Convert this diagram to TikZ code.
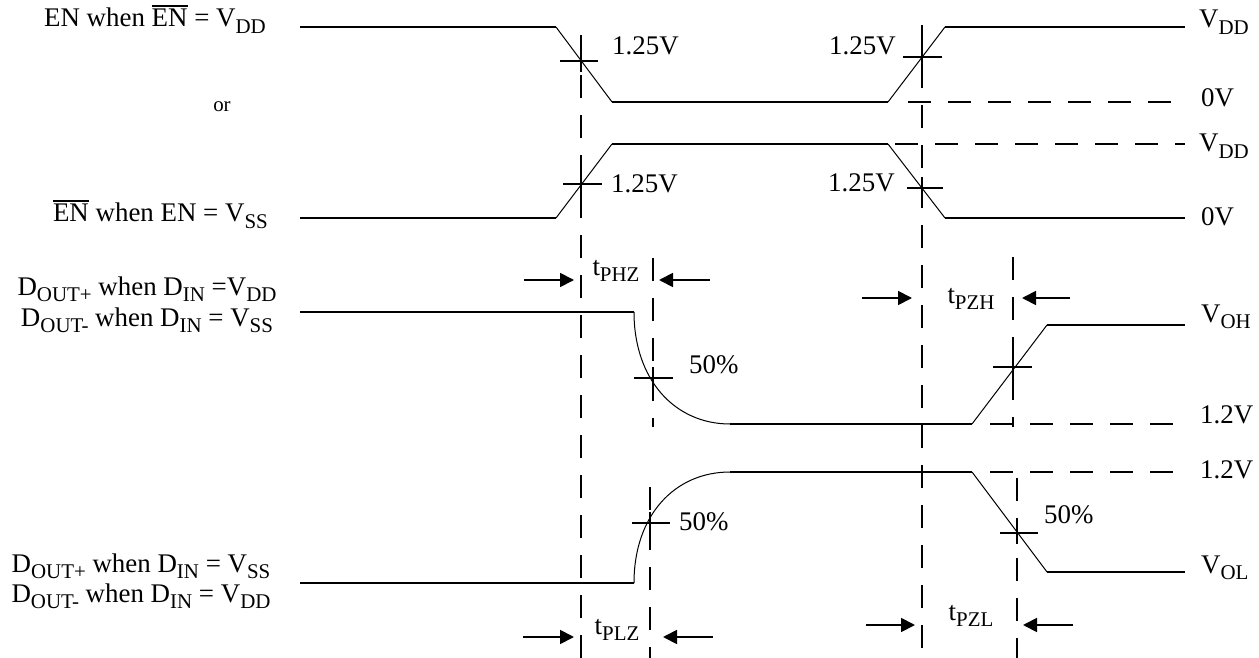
\documentclass[tikz,border=0pt]{standalone}
\usepackage{fontspec}
\setmainfont{Liberation Serif}
\usetikzlibrary{arrows.meta}
\newcommand\sbs[1]{\raisebox{-0.24em}{\fontsize{21}{21}\selectfont #1}}
\newcommand\ovl[1]{{\setbox0\hbox{#1}\rlap{\raisebox{\dimexpr\ht0+2.5bp\relax}{\rule{\wd0}{1.8bp}}}\box0}}
\begin{document}
\begin{tikzpicture}[x=1bp,y=-1bp,
  wave/.style={line width=1.8bp},
  edge/.style={line width=1bp},
  tick/.style={line width=1.8bp},
  dsh/.style={line width=1.8bp, dash pattern=on 23bp off 17bp},
  lbl/.style={inner sep=0pt, font=\fontsize{27}{29}\selectfont},
  meas/.style={line width=1.8bp,-{Triangle[length=14bp,width=14bp]}}
]
\useasboundingbox (0,0) rectangle (1259,658);

% ---- EN waveform
\coordinate (a0) at (300,27);  \coordinate (a1) at (556,27);
\coordinate (a2) at (612,102); \coordinate (a3) at (888,102);
\coordinate (a4) at (945,27);  \coordinate (a5) at (1185,27);
\draw[wave] (a0) -- (a1);
\draw[edge] (a1) -- (a2);
\draw[wave] (a2) -- (a3);
\draw[edge] (a3) -- (a4);
\draw[wave] (a4) -- (a5);
\draw[dsh] (908,102) -- (1185,102);

% ---- ENbar waveform
\coordinate (b0) at (300,218);  \coordinate (b1) at (556,218);
\coordinate (b2) at (612,144);  \coordinate (b3) at (888,144);
\coordinate (b4) at (945,218);  \coordinate (b5) at (1185,218);
\draw[wave] (b0) -- (b1);
\draw[edge] (b1) -- (b2);
\draw[wave] (b2) -- (b3);
\draw[edge] (b3) -- (b4);
\draw[wave] (b4) -- (b5);
\draw[dsh] (895,144) -- (1185,144);

% ---- Dout high->Z
\coordinate (c0) at (300,312); \coordinate (c1) at (634,312);
\coordinate (c2) at (730,424); \coordinate (c3) at (972,424);
\coordinate (c4) at (1047,325); \coordinate (c5) at (1185,325);
\draw[wave] (c0) -- (c1);
\draw[edge] (c1) .. controls (634,380) and (675,424) .. (c2);
\draw[wave] (c2) -- (c3);
\draw[edge] (c3) -- (c4);
\draw[wave] (c4) -- (c5);
\draw[dsh] (990,424) -- (1185,424);

% ---- Dout low->Z
\coordinate (d0) at (300,583); \coordinate (d1) at (634,583);
\coordinate (d2) at (730,472); \coordinate (d3) at (972,472);
\coordinate (d4) at (1047,572); \coordinate (d5) at (1185,572);
\draw[wave] (d0) -- (d1);
\draw[edge] (d1) .. controls (634,515) and (675,472) .. (d2);
\draw[wave] (d2) -- (d3);
\draw[edge] (d3) -- (d4);
\draw[wave] (d4) -- (d5);
\draw[dsh] (990,472) -- (1185,472);

% ---- vertical reference lines
\draw[dsh] (581,35) -- (581,658);
\draw[dsh] (922,25) -- (922,658);
\draw[dsh] (653,258) -- (653,427);
\draw[dsh] (650,487) -- (650,658);
\draw[dsh] (1013,257) -- (1013,427);
\draw[dsh] (1017,478) -- (1017,658);

% ---- crosshair ticks
\draw[tick] (560,61) -- (598,61);
\draw[tick] (563,184) -- (602,184);
\draw[tick] (903,57) -- (942,57);
\draw[tick] (907,188) -- (943,188);
\draw[tick] (634,378) -- (673,378);
\draw[tick] (632,523) -- (670,523);
\draw[tick] (993,367) -- (1032,367);
\draw[tick] (1000,533) -- (1038,533);
\foreach \x/\y in {581/61,581/184,922/57,922/188,653/378,650/523,1013/367,1017/533}
  \draw[tick] (\x,\y-11) -- (\x,\y+11);

% ---- measurement arrows
\coordinate (p1s) at (524,280); \coordinate (p1e) at (574,280);
\coordinate (p2s) at (710,280); \coordinate (p2e) at (659,280);
\draw[meas] (p1s) -- (p1e); \draw[meas] (p2s) -- (p2e);
\coordinate (q1s) at (523,637); \coordinate (q1e) at (574,637);
\coordinate (q2s) at (713,637); \coordinate (q2e) at (663,637);
\draw[meas] (q1s) -- (q1e); \draw[meas] (q2s) -- (q2e);
\coordinate (r1s) at (862,298); \coordinate (r1e) at (912,298);
\coordinate (r2s) at (1070,298); \coordinate (r2e) at (1022,298);
\draw[meas] (r1s) -- (r1e); \draw[meas] (r2s) -- (r2e);
\coordinate (s1s) at (866,625); \coordinate (s1e) at (915,625);
\coordinate (s2s) at (1073,625); \coordinate (s2e) at (1023,625);
\draw[meas] (s1s) -- (s1e); \draw[meas] (s2s) -- (s2e);

% ---- labels
\node[lbl, anchor=base east] (l1) at (266,27) {EN when \ovl{EN} = V\sbs{DD}};
\node[inner sep=0pt, font=\fontsize{21}{23}\selectfont] (lor) at (222,107) {or};
\node[lbl, anchor=base east] (l2) at (268,222) {\ovl{EN} when EN = V\sbs{SS}};
\node[lbl, anchor=base] (l3) at (147,295) {D\sbs{OUT+} when D\sbs{IN} =V\sbs{DD}};
\node[lbl, anchor=base] (l4) at (147,326) {D\sbs{OUT-} when D\sbs{IN} = V\sbs{SS}};
\node[lbl, anchor=base] (l5) at (141,572) {D\sbs{OUT+} when D\sbs{IN} = V\sbs{SS}};
\node[lbl, anchor=base] (l6) at (141,602) {D\sbs{OUT-} when D\sbs{IN} = V\sbs{DD}};

\node[lbl, anchor=base west] (v1) at (1199,28) {V\sbs{DD}};
\node[lbl, anchor=base west] (v2) at (1201,107) {0V};
\node[lbl, anchor=base west] (v3) at (1199,152) {V\sbs{DD}};
\node[lbl, anchor=base west] (v4) at (1201,226) {0V};
\node[lbl, anchor=base west] (v5) at (1201,322) {V\sbs{OH}};
\node[lbl, anchor=base west] (v6) at (1200,423) {1.2V};
\node[lbl, anchor=base west] (v7) at (1200,478) {1.2V};
\node[lbl, anchor=base west] (v8) at (1201,573) {V\sbs{OL}};

\node[lbl, anchor=base west] (k1) at (612,55) {1.25V};
\node[lbl, anchor=base west] (k2) at (829,55) {1.25V};
\node[lbl, anchor=base west] (k3) at (611,193) {1.25V};
\node[lbl, anchor=base west] (k4) at (828,192) {1.25V};
\node[lbl, anchor=base west] (f1) at (689,373) {50\%};
\node[lbl, anchor=base west] (f2) at (679,530) {50\%};
\node[lbl, anchor=base west] (f3) at (1044,523) {50\%};

\node[lbl, anchor=base] (t1) at (616,275) {t\sbs{PHZ}};
\node[lbl, anchor=base] (t2) at (617,634) {t\sbs{PLZ}};
\node[lbl, anchor=base] (t3) at (971,303) {t\sbs{PZH}};
\node[lbl, anchor=base] (t4) at (971,620) {t\sbs{PZL}};
\end{tikzpicture}
\end{document}
